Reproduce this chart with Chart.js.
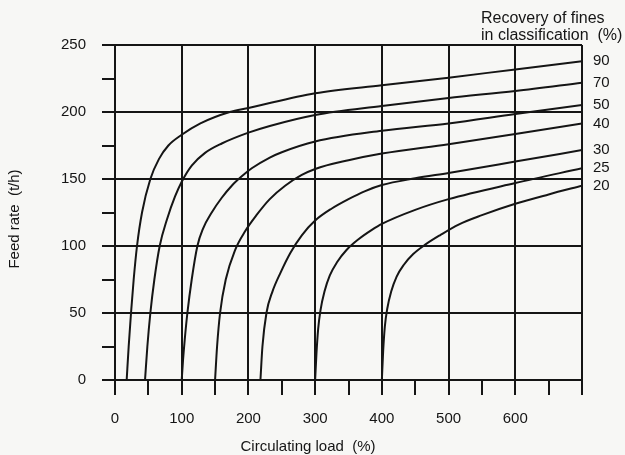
<!DOCTYPE html>
<html>
<head>
<meta charset="utf-8">
<script src="https://cdn.jsdelivr.net/npm/chart.js@4"></script>
<style>
  html, body { margin: 0; padding: 0; background: #f7f7f5; }
  canvas { display: block; }
</style>
</head>
<body>
<canvas id="chart" width="625" height="455"></canvas>
<script>
// Recovery of fines in classification (%), one curve each
const recoveryLabels = ['90', '70', '50', '40', '30', '25', '20'];

// [circulating load (%), feed rate (t/h)] along each curve
const curve90 = [[17.5,0],[20.5,25],[24,50],[28,75],[33,100],[40.5,125],[53,150],[66,165],[80,175],[100,183],[128,191.5],[172,200],[200,203],[300,214],[400,220],[500,225.6],[600,231.8],[700,237.8]];
const curve70 = [[45,0],[48.5,25],[53,50],[59,75],[67,100],[78,120],[90,137],[100,148],[115,160],[135,169.5],[160,176.5],[200,184.6],[232,189.6],[300,197.8],[400,204.5],[500,210.5],[600,215.7],[700,221.9]];
const curve50 = [[100,0],[102,15],[104.5,30],[108.5,50],[115,75],[123.5,100],[132,113],[145,125],[160,136],[175,145],[190,152],[205,158],[232,166],[250,170],[300,178],[400,186],[500,191.5],[600,198.5],[700,205.2]];
const curve40 = [[150,0],[153,25],[157.5,50],[166,75],[180,97],[195,111],[212,123],[232,135],[255,145],[280,153],[300,157.5],[350,164],[400,169],[500,176],[600,183.6],[700,191.5]];
const curve30 = [[218,0],[221,25],[227,50],[236,66],[248,80],[263,95],[280,108],[300,119],[325,128],[350,135],[375,141],[400,145.5],[450,150.5],[500,154.5],[600,163],[700,171.6]];
const curve25 = [[300,0],[302,20],[304.5,38],[308,52],[314,66],[322,78],[333,88],[347,97],[365,105],[385,112],[400,116.5],[450,127],[500,135],[600,147],[700,158]];
const curve20 = [[400,0],[402,22],[404.5,40],[408,53],[414,66],[422,77],[433,86],[447,94],[465,101],[487,108],[515,116],[550,123],[600,131.5],[650,138.5],[700,145]];

// Labelled tick values
const xTickLabels = [0, 100, 200, 300, 400, 500, 600];
const yTickLabels = [0, 50, 100, 150, 200, 250];

const INK = '#151515';
const FONT = '"Liberation Sans", Arial, Helvetica, sans-serif';

const curves = [curve90, curve70, curve50, curve40, curve30, curve25, curve20];

const datasets = curves.map((pts, i) => ({
  label: recoveryLabels[i],
  data: pts.map(([x, y]) => ({ x, y })),
  borderColor: INK,
  borderWidth: 2,
  pointRadius: 0,
  fill: false,
  cubicInterpolationMode: 'monotone'
}));

const decorations = {
  id: 'decorations',
  beforeDraw(chart) {
    const { ctx, width, height } = chart;
    ctx.save();
    ctx.fillStyle = '#f7f7f5';
    ctx.fillRect(0, 0, width, height);
    ctx.restore();
  },
  afterDraw(chart) {
    const { ctx } = chart;
    const xs = chart.scales.x, ys = chart.scales.y;
    ctx.save();
    ctx.fillStyle = INK;

    // recovery value beside the end of each curve
    ctx.font = '15px ' + FONT;
    ctx.textAlign = 'left';
    ctx.textBaseline = 'middle';
    chart.data.datasets.forEach(ds => {
      const last = ds.data[ds.data.length - 1];
      ctx.fillText(ds.label, xs.right + 11, ys.getPixelForValue(last.y));
    });

    // heading of the curve labels
    ctx.font = '16px ' + FONT;
    ctx.fillText('Recovery of fines', 481, 19);
    ctx.fillText('in classification  (%)', 481, 36);

    // axis titles
    ctx.font = '15px ' + FONT;
    ctx.textAlign = 'center';
    ctx.fillText('Circulating load  (%)', 308, 447);
    ctx.translate(15, 219);
    ctx.rotate(-Math.PI / 2);
    ctx.fillText('Feed rate  (t/h)', 0, 0);
    ctx.restore();
  }
};

new Chart(document.getElementById('chart'), {
  type: 'line',
  data: { datasets },
  options: {
    responsive: false,
    animation: false,
    events: [],
    layout: { padding: { top: 45, right: 43, left: 0, bottom: 0 } },
    plugins: { legend: { display: false }, tooltip: { enabled: false } },
    scales: {
      x: {
        type: 'linear',
        min: 0,
        max: 700,
        afterFit(scale) { scale.height = 75; },
        ticks: {
          stepSize: 50,
          autoSkip: false,
          maxRotation: 0,
          padding: 15,
          color: INK,
          font: { family: FONT, size: 15 },
          callback: v => xTickLabels.includes(v) ? String(v) : ''
        },
        grid: {
          color: c => (c.tick && c.tick.value % 100 === 0) ? INK : 'rgba(0,0,0,0)',
          tickColor: INK,
          lineWidth: 2,
          tickLength: 15
        },
        border: { display: true, color: INK, width: 2 }
      },
      y: {
        type: 'linear',
        min: 0,
        max: 250,
        afterFit(scale) { scale.width = 115; },
        ticks: {
          stepSize: 25,
          autoSkip: false,
          padding: 16,
          color: INK,
          font: { family: FONT, size: 15 },
          callback: v => yTickLabels.includes(v) ? String(v) : ''
        },
        grid: {
          color: c => (c.tick && c.tick.value % 50 === 0) ? INK : 'rgba(0,0,0,0)',
          tickColor: INK,
          lineWidth: 2,
          tickLength: 13
        },
        border: { display: true, color: INK, width: 2 }
      }
    }
  },
  plugins: [decorations]
});
</script>
</body>
</html>
